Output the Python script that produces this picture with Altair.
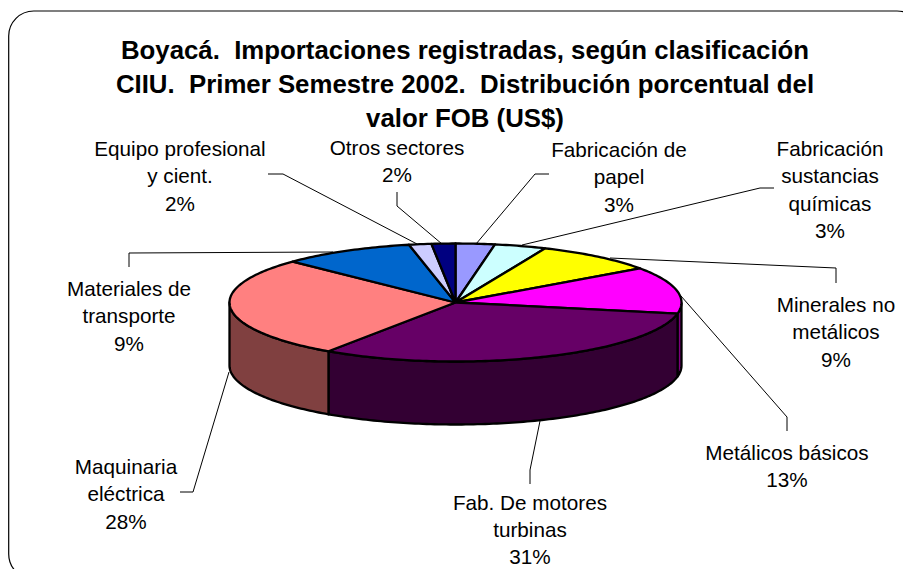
import math
import altair as alt
import pandas as pd

# --- chart values ---
title_lines = [
    "Boyacá.  Importaciones registradas, según clasificación",
    "CIIU.  Primer Semestre 2002.  Distribución porcentual del",
    "valor FOB (US$)",
]
sectors = ["Fabricación de papel", "Fabricación sustancias químicas", "Minerales no metálicos",
           "Metálicos básicos", "Fab. De motores turbinas", "Maquinaria eléctrica",
           "Materiales de transporte", "Equipo profesional y cient.", "Otros sectores"]
shares = [2.8, 3.7, 8.7, 12.8, 31.5, 27.7, 9.5, 1.6, 1.7]
shown_pct = ["3%", "3%", "9%", "13%", "31%", "28%", "9%", "2%", "2%"]
label_lines = [
    ["Fabricación de", "papel"],
    ["Fabricación", "sustancias", "químicas"],
    ["Minerales no", "metálicos"],
    ["Metálicos básicos"],
    ["Fab. De motores", "turbinas"],
    ["Maquinaria", "eléctrica"],
    ["Materiales de", "transporte"],
    ["Equipo profesional", "y cient."],
    ["Otros sectores"],
]
top_colors = ["#9999FF", "#CCFFFF", "#FFFF00", "#FF00FF", "#660066", "#FF8080", "#0066CC", "#CCCCFF", "#000080"]
side_colors = ["#4D4D80", "#668080", "#808000", "#800080", "#330033", "#804040", "#003366", "#666680", "#000040"]

# --- layout (page pixels) ---
CX, CY, RX, RY, DEPTH = 455.5, 302.5, 226, 59, 63
label_x = [619, 830, 836, 787, 530, 126, 129, 180, 397]
label_y = [157, 156, 312, 460, 509.5, 474, 296, 156, 155]
LINE_H = 27.4
leaders = [
    [(549, 174), (535, 174), (476, 244)],
    [(774, 188), (760, 188), (522, 245)],
    [(836, 283), (836, 268), (610, 258)],
    [(787, 431), (787, 417), (681, 296)],
    [(530, 484), (530, 470), (540, 421)],
    [(180, 492), (193, 492), (229, 372)],
    [(129, 267), (129, 253), (333, 252)],
    [(268, 174), (283, 174), (417, 244)],
    [(397, 192), (397, 206), (442, 244)],
]
frame = dict(x=8.7, x2=922, y=11, y2=579)

# --- derive geometry from the shares ---
def pt(deg, dy=0):
    a = math.radians(deg)
    return CX + RX * math.sin(a), CY - RY * math.cos(a) + dy

def arc(a, b):
    n = max(2, int(abs(b - a)) + 2)
    return [a + (b - a) * i / (n - 1) for i in range(n)]

tops, sides = [], []
start = 0.0
total = sum(shares)
for name, s in zip(sectors, shares):
    end = start + 360 * s / total
    poly = [(CX, CY)] + [pt(d) for d in arc(start, end)] + [(CX, CY)]
    tops += [dict(k=name, fillk=name, i=i, x=p[0], y=p[1]) for i, p in enumerate(poly)]
    a, b = max(start, 90), min(end, 270)
    if b > a:
        poly = [pt(d) for d in arc(a, b)] + [pt(d, DEPTH) for d in arc(b, a)]
        poly.append(poly[0])
        sides += [dict(k=name + " lado", fillk=name + " lado", i=i, x=p[0], y=p[1]) for i, p in enumerate(poly)]
    start = end

leader_rows = [dict(k=n, i=i, x=p[0], y=p[1]) for n, pts in zip(sectors, leaders) for i, p in enumerate(pts)]
text_rows = []
for lines, pct, lx, ly in zip(label_lines, shown_pct, label_x, label_y):
    for j, t in enumerate(lines + [pct]):
        text_rows.append(dict(t=t, x=lx, y=ly + j * LINE_H))
title_rows = [dict(t=t.replace("  ", "\u00a0\u00a0"), x=465, y=58.5 + 34 * j) for j, t in enumerate(title_lines)]

X = alt.X("x:Q", scale=alt.Scale(domain=[8, 903], range=[0, 895], zero=False, nice=False), axis=None)
Y = alt.Y("y:Q", scale=alt.Scale(domain=[8, 569], range=[0, 561], zero=False, nice=False), axis=None)
fill_scale = alt.Scale(domain=sectors + [s + " lado" for s in sectors], range=top_colors + side_colors)
FONT = "Liberation Sans"

border = alt.Chart(pd.DataFrame([frame])).mark_rect(
    cornerRadius=25, fill="white", stroke="black", strokeWidth=1.2, clip=True
).encode(x=X, x2="x2:Q", y=Y, y2="y2:Q")

leader_layer = alt.Chart(pd.DataFrame(leader_rows)).mark_line(color="black", strokeWidth=1).encode(
    x=X, y=Y, detail="k:N", order="i:Q")

def polys(rows):
    return alt.Chart(pd.DataFrame(rows)).mark_line(stroke="black", strokeWidth=2.3, strokeJoin="round").encode(
        x=X, y=Y, detail="k:N", order="i:Q",
        fill=alt.Fill("fillk:N", scale=fill_scale, legend=None))

labels = alt.Chart(pd.DataFrame(text_rows)).mark_text(
    font=FONT, fontSize=20.7, align="center", baseline="alphabetic", color="black"
).encode(x=X, y=Y, text="t:N")
title = alt.Chart(pd.DataFrame(title_rows)).mark_text(
    font=FONT, fontSize=25.8, fontWeight="bold", align="center", baseline="alphabetic", color="black"
).encode(x=X, y=Y, text="t:N")

chart = alt.layer(border, leader_layer, polys(sides), polys(tops), labels, title).properties(
    width=895, height=561, padding=0, autosize=alt.AutoSizeParams(type="none"),
    background="white"
).configure_view(stroke=None)

chart.save("out.html", embed_options={"renderer": "svg", "actions": False})
